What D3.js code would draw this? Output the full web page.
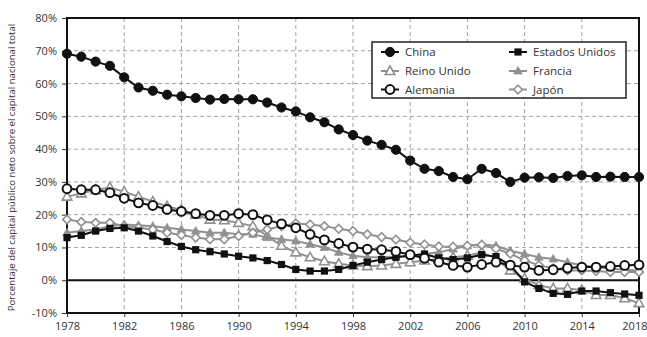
<!DOCTYPE html>
<html><head><meta charset="utf-8">
<script src="https://cdn.jsdelivr.net/npm/d3@7"></script>
<style>
html,body{margin:0;padding:0;background:#fff;}
svg{display:block;font-family:"Open Sans","Noto Sans",sans-serif;}
</style></head>
<body><svg id="c" width="647" height="337"></svg>
<script>
const years = d3.range(1978, 2019);
const yTicks = [-10,0,10,20,30,40,50,60,70,80];
const xTicks = [1978,1982,1986,1990,1994,1998,2002,2006,2010,2014,2018];

const china = [69.1,68.2,66.7,65.4,61.9,58.8,57.8,56.6,56.1,55.6,55.1,55.3,55.2,55.2,54.2,52.7,51.5,49.7,48.2,46.0,44.3,42.6,41.3,39.8,36.5,34.0,33.3,31.5,30.8,34.0,32.7,30.0,31.3,31.4,31.2,31.8,32.0,31.5,31.6,31.5,31.5];
const estadosUnidos = [13.0,13.7,15.0,15.8,16.0,15.0,13.5,11.8,10.3,9.3,8.7,8.0,7.3,6.8,6.0,4.8,3.3,2.8,2.8,3.3,4.5,5.5,6.3,7.0,7.5,8.0,6.8,6.3,6.8,7.8,7.2,4.6,-0.5,-2.5,-4.0,-4.3,-3.3,-3.3,-3.8,-4.2,-4.6];
const reinoUnido = [25.5,26.5,27.5,28.3,27.0,25.5,24.0,22.5,21.5,20.0,18.5,18.3,17.5,16.5,13.5,10.5,8.5,7.0,5.8,5.0,4.5,4.3,4.5,5.0,5.5,6.0,6.5,7.0,7.5,8.5,6.5,3.0,0.5,-1.5,-2.5,-2.5,-3.0,-4.5,-4.5,-5.5,-7.0];
const francia = [14.5,15.0,15.5,16.5,17.0,16.8,16.5,16.0,15.5,15.0,14.5,14.5,14.0,14.0,13.0,12.5,12.0,11.0,10.0,8.5,7.5,7.0,7.0,7.2,7.5,8.0,8.5,9.5,10.5,11.0,10.5,9.0,8.0,7.0,6.5,5.5,4.5,4.0,3.5,3.2,3.0];
const alemania = [27.9,27.6,27.6,26.7,25.0,23.6,22.8,21.6,21.0,20.3,19.8,19.8,20.3,20.0,18.4,17.2,16.0,14.0,12.3,11.2,10.1,9.5,9.3,8.8,7.8,6.7,5.5,4.5,4.0,4.8,5.5,4.6,4.0,3.0,3.2,3.7,4.0,4.0,4.2,4.5,4.7];
const japon = [18.5,17.8,17.5,17.5,16.5,16.0,15.5,14.5,13.8,13.0,12.5,12.5,13.5,14.5,15.5,16.5,17.3,17.0,16.5,15.7,15.0,14.0,13.2,12.4,11.5,10.9,10.3,10.2,10.5,10.8,9.6,8.1,6.0,4.6,3.6,3.0,3.0,2.8,2.5,2.5,2.5];

const GRAY = "#919191";
const series = [
  {name:"Reino Unido", data:reinoUnido, color:GRAY, sym:"triOpen"},
  {name:"Francia", data:francia, color:GRAY, sym:"triFill"},
  {name:"Japón", data:japon, color:GRAY, sym:"diamond"},
  {name:"Estados Unidos", data:estadosUnidos, color:"#111", sym:"square"},
  {name:"Alemania", data:alemania, color:"#111", sym:"circleOpen"},
  {name:"China", data:china, color:"#111", sym:"circleFill"}
];
const legendOrder = [
  ["China","Estados Unidos"],
  ["Reino Unido","Francia"],
  ["Alemania","Japón"]
];

const svg = d3.select("#c");
const L=67, R=639, T=18, B=313;
const x = d3.scaleLinear().domain([1978,2018]).range([L,R]);
const y = d3.scaleLinear().domain([-10,80]).range([B,T]);

// grid
const g = svg.append("g");
g.selectAll(".hg").data(yTicks.filter(v=>v!==0 && v!==-10 && v!==80)).enter().append("line")
  .attr("x1",L).attr("x2",R).attr("y1",d=>y(d)).attr("y2",d=>y(d))
  .attr("stroke","#a0a0a0").attr("stroke-width",1).attr("stroke-dasharray","4,3");
g.selectAll(".vg").data(xTicks.filter(v=>v!==1978 && v!==2018)).enter().append("line")
  .attr("y1",T).attr("y2",B).attr("x1",d=>x(d)).attr("x2",d=>x(d))
  .attr("stroke","#a0a0a0").attr("stroke-width",1).attr("stroke-dasharray","4,3");

// zero line
svg.append("line").attr("x1",L).attr("x2",R).attr("y1",y(0)).attr("y2",y(0))
  .attr("stroke","#111").attr("stroke-width",2);

// axes
const yAxis = d3.axisLeft(y).tickValues(yTicks).tickFormat(d=>d+"%").tickSize(5).tickPadding(5);
const ya = svg.append("g").attr("transform",`translate(${L},0)`).call(yAxis);
ya.select(".domain").remove();
ya.selectAll("line").attr("stroke","#333");
ya.selectAll("text").attr("font-size",11).attr("fill","#333").attr("font-family","'Open Sans',sans-serif");

const xAxis = d3.axisBottom(x).tickValues(xTicks).tickFormat(d3.format("d")).tickSize(4).tickPadding(5);
const xa = svg.append("g").attr("transform",`translate(0,${B})`).call(xAxis);
xa.select(".domain").remove();
xa.selectAll("line").attr("stroke","#333");
xa.selectAll("text").attr("font-size",11).attr("fill","#333").attr("font-family","'Open Sans',sans-serif");
xa.selectAll(".tick").filter(d=>d===2018).select("text").attr("text-anchor","end").attr("dx","8");

// frame
svg.append("rect").attr("x",L).attr("y",T).attr("width",R-L).attr("height",B-T)
  .attr("fill","none").attr("stroke","#111").attr("stroke-width",2);

// y title
svg.append("text").attr("transform",`translate(15,${(T+B)/2+2}) rotate(-90)`)
  .attr("text-anchor","middle").attr("font-size",9.6).attr("fill","#333")
  .attr("font-family","'Open Sans',sans-serif")
  .text("Porcentaje del capital público neto sobre el capital nacional total");

function drawSym(sel, sym, color){
  if(sym==="circleFill") sel.append("circle").attr("r",4.6).attr("fill",color).attr("stroke",color);
  else if(sym==="circleOpen") sel.append("circle").attr("r",4.4).attr("fill","#fff").attr("stroke",color).attr("stroke-width",2);
  else if(sym==="square") sel.append("rect").attr("x",-3.6).attr("y",-3.6).attr("width",7.2).attr("height",7.2).attr("fill",color);
  else if(sym==="triOpen") sel.append("path").attr("d","M0,-5L4.8,3.5L-4.8,3.5Z").attr("fill","#fff").attr("stroke",color).attr("stroke-width",1.6);
  else if(sym==="triFill") sel.append("path").attr("d","M0,-4.5L4.2,3L-4.2,3Z").attr("fill",color).attr("stroke",color).attr("stroke-width",0.8);
  else if(sym==="diamond") sel.append("path").attr("d","M0,-4.3L4.3,0L0,4.3L-4.3,0Z").attr("fill","#fff").attr("stroke",color).attr("stroke-width",1.6);
}

const line = d3.line().x((d,i)=>x(years[i])).y(d=>y(d));
series.forEach(s=>{
  const sg = svg.append("g");
  sg.append("path").datum(s.data).attr("d",line).attr("fill","none")
    .attr("stroke",s.color).attr("stroke-width",2);
  s.data.forEach((v,i)=>{
    const m = sg.append("g").attr("transform",`translate(${x(years[i])},${y(v)})`);
    drawSym(m, s.sym, s.color);
  });
});

// legend
const lg = svg.append("g");
lg.append("rect").attr("x",372).attr("y",42).attr("width",254).attr("height",56)
  .attr("fill","#fff").attr("stroke","#222").attr("stroke-width",1.5);
const colX = [390, 518];
const rowY = [52, 71, 89.5];
legendOrder.forEach((row,ri)=>{
  row.forEach((nm,ci)=>{
    const s = series.find(q=>q.name===nm);
    const cx = colX[ci], cy = rowY[ri];
    lg.append("line").attr("x1",cx-9).attr("x2",cx+9).attr("y1",cy).attr("y2",cy)
      .attr("stroke",s.color).attr("stroke-width",2);
    drawSym(lg.append("g").attr("transform",`translate(${cx},${cy})`), s.sym, s.color);
    lg.append("text").attr("x",cx+15).attr("y",cy+4).attr("font-size",11.5)
      .attr("fill","#333").attr("font-family","'Open Sans',sans-serif").text(nm);
  });
});
</script></body></html>
